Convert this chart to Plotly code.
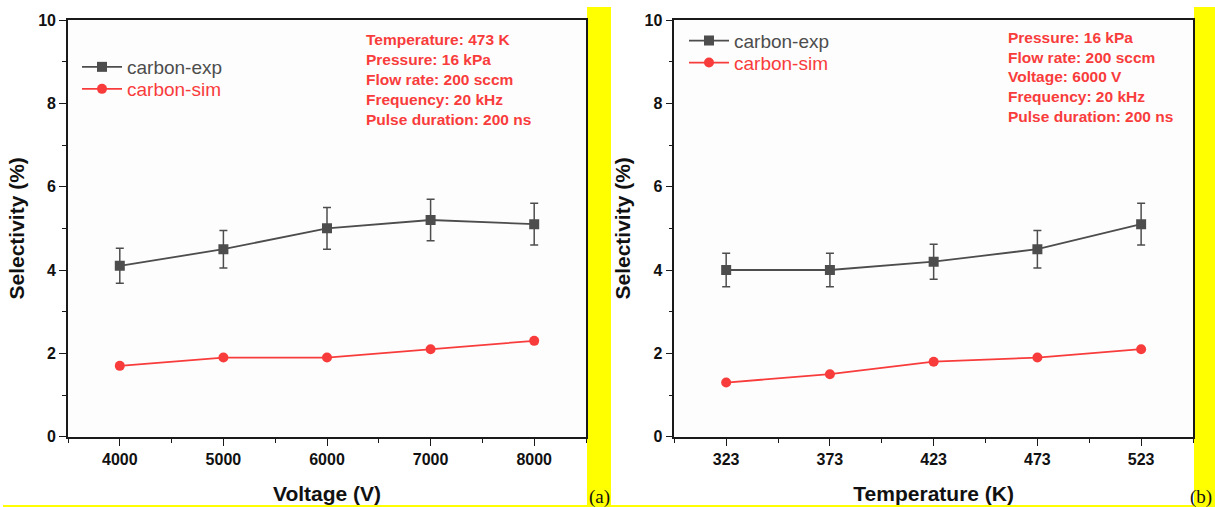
import plotly.graph_objects as go

# ---------------- data ----------------
voltage = [4000, 5000, 6000, 7000, 8000]
exp_v = [4.1, 4.5, 5.0, 5.2, 5.1]
exp_v_err = [0.42, 0.45, 0.5, 0.5, 0.5]
sim_v = [1.7, 1.9, 1.9, 2.1, 2.3]

temperature = [323, 373, 423, 473, 523]
exp_t = [4.0, 4.0, 4.2, 4.5, 5.1]
exp_t_err = [0.4, 0.4, 0.42, 0.45, 0.5]
sim_t = [1.3, 1.5, 1.8, 1.9, 2.1]

series_names = ["carbon-exp", "carbon-sim"]
params_a = ["Temperature: 473 K", "Pressure: 16 kPa", "Flow rate: 200 sccm",
            "Frequency: 20 kHz", "Pulse duration: 200 ns"]
params_b = ["Pressure: 16 kPa", "Flow rate: 200 sccm", "Voltage: 6000 V",
            "Frequency: 20 kHz", "Pulse duration: 200 ns"]
panel_labels = ["(a)", "(b)"]
x_titles = ["Voltage (V)", "Temperature (K)"]
y_title = "Selectivity (%)"

# ---------------- style ----------------
W, H = 1215, 507
GRAY = "#4d4d4d"
RED = "#f83c3c"
FONT = "Arial, Liberation Sans, sans-serif"


def px_x(p):
    return p / W


def px_y(p):
    return 1 - p / H


fig = go.Figure()


def add_panel(xs, ye, yerr, ys, xa, ya, leg_exp, leg_sim):
    fig.add_trace(go.Scatter(
        x=xs, y=ye, name=series_names[0], mode="lines+markers",
        line=dict(color=GRAY, width=1.8),
        marker=dict(symbol="square", size=10, color=GRAY),
        error_y=dict(type="data", array=yerr, visible=True, color=GRAY,
                     thickness=1.5, width=4),
        xaxis=xa, yaxis=ya, legend=leg_exp, showlegend=True))
    fig.add_trace(go.Scatter(
        x=xs, y=ys, name=series_names[1], mode="lines+markers",
        line=dict(color=RED, width=1.8),
        marker=dict(symbol="circle", size=10, color=RED),
        xaxis=xa, yaxis=ya, legend=leg_sim, showlegend=True))


add_panel(voltage, exp_v, exp_v_err, sim_v, "x", "y", "legend", "legend2")
add_panel(temperature, exp_t, exp_t_err, sim_t, "x2", "y2", "legend3", "legend4")

ydom = [px_y(436.7), px_y(20)]
x1dom = [px_x(68), px_x(586)]
x2dom = [px_x(674.3), px_x(1193)]

AX = "#1a1a1a"
axis_common = dict(
    showline=True, linecolor=AX, linewidth=1.6, mirror=True,
    ticks="outside", ticklen=7, tickwidth=1.4, tickcolor=AX,
    showgrid=False, zeroline=False, automargin=False,
    tickfont=dict(family=FONT, size=16, color="#111111", weight="bold"),
)
title_font = dict(family=FONT, size=21, color="#111111", weight="bold")
minor_x = dict(ticks="outside", ticklen=4, tickwidth=1.4, tickcolor=AX, showgrid=False)

xaxis1 = dict(axis_common, domain=x1dom, range=[3500, 8500], tick0=4000, dtick=1000,
              minor=dict(minor_x, dtick=500, tick0=3500),
              title=dict(text=x_titles[0], standoff=20, font=title_font),
              anchor="y")
xaxis2 = dict(axis_common, domain=x2dom, range=[298, 548], tick0=323, dtick=50,
              minor=dict(minor_x, dtick=25, tick0=298),
              title=dict(text=x_titles[1], standoff=20, font=title_font),
              anchor="y2")
yaxis_common = dict(axis_common, domain=ydom, range=[0, 10], tick0=0, dtick=2,
                    minor=dict(minor_x, dtick=1),
                    title=dict(text=y_title, standoff=8, font=title_font))
yaxis1 = dict(yaxis_common, anchor="x")
yaxis2 = dict(yaxis_common, anchor="x2")


def legend_at(xpx, ypx, color):
    return dict(bgcolor="rgba(0,0,0,0)", borderwidth=0, itemwidth=40,
                font=dict(family=FONT, size=19, color=color),
                xanchor="left", yanchor="middle", itemclick=False, visible=True,
                x=px_x(xpx), y=px_y(ypx))


shapes = [
    dict(type="rect", xref="paper", yref="paper", x0=px_x(587), x1=px_x(611),
         y0=0, y1=px_y(7), fillcolor="#ffff00", line=dict(width=0), layer="below"),
    dict(type="rect", xref="paper", yref="paper", x0=px_x(1194), x1=1,
         y0=0, y1=px_y(7), fillcolor="#ffff00", line=dict(width=0), layer="below"),
    dict(type="rect", xref="paper", yref="paper", x0=px_x(3), x1=1,
         y0=0, y1=px_y(505), fillcolor="#ffff00", line=dict(width=0), layer="below"),
]

annot_font = dict(family=FONT, size=15.5, color=RED, weight="bold")
annotations = []
for i, t in enumerate(params_a):
    annotations.append(dict(text=t, xref="paper", yref="paper", x=px_x(364),
                            y=px_y(40 + 19.8 * i), xanchor="left", yanchor="middle",
                            showarrow=False, font=annot_font))
for i, t in enumerate(params_b):
    annotations.append(dict(text=t, xref="paper", yref="paper", x=px_x(1006),
                            y=px_y(37.3 + 19.8 * i), xanchor="left", yanchor="middle",
                            showarrow=False, font=annot_font))
serif = dict(family="Liberation Serif, Times New Roman, serif", size=19, color="#111111")
annotations.append(dict(text=panel_labels[0], xref="paper", yref="paper", x=px_x(599),
                        y=px_y(497), xanchor="center", yanchor="middle", showarrow=False,
                        font=serif))
annotations.append(dict(text=panel_labels[1], xref="paper", yref="paper", x=px_x(1214),
                        y=px_y(497), xanchor="right", yanchor="middle", showarrow=False,
                        font=serif))

fig.update_layout(
    width=W, height=H, margin=dict(l=0, r=0, t=0, b=0, autoexpand=False),
    showlegend=True,
    paper_bgcolor="white", plot_bgcolor="#fdfdfd",
    xaxis=xaxis1, yaxis=yaxis1, xaxis2=xaxis2, yaxis2=yaxis2,
    legend=legend_at(77, 67, GRAY),
    legend2=legend_at(77, 89, RED),
    legend3=legend_at(684, 40.7, GRAY),
    legend4=legend_at(684, 62.7, RED),
    shapes=shapes, annotations=annotations,
    font=dict(family=FONT),
)

fig.write_html("out.html")
